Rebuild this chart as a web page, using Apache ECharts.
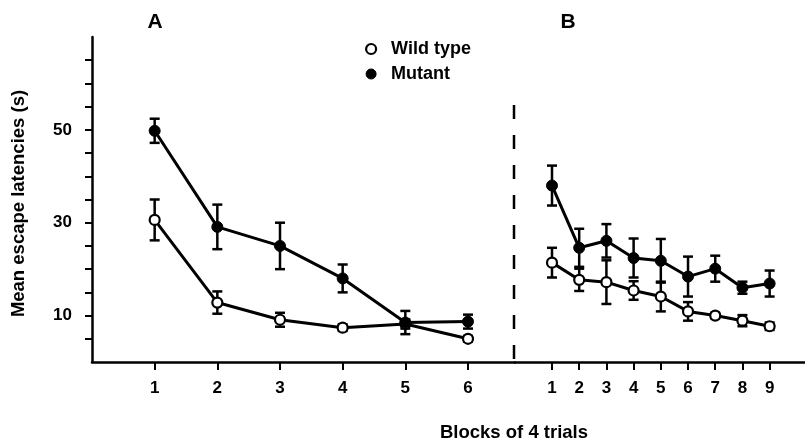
<!DOCTYPE html>
<html><head><meta charset="utf-8">
<script src="https://cdn.jsdelivr.net/npm/echarts@6/dist/echarts.min.js"></script>
<style>html,body{margin:0;padding:0;background:#fff}#c{width:805px;height:443px}</style>
</head><body><div id="c"></div>
<script>
const blocksA = [1, 2, 3, 4, 5, 6];
const blocksB = [1, 2, 3, 4, 5, 6, 7, 8, 9];
const wildA = [30.6, 12.8, 9.1, 7.4, 8.2, 5.0];
const wildAErr = [4.4, 2.4, 1.5, 0.7, 1.0, 0.6];
const mutantA = [49.8, 29.1, 25.0, 18.0, 8.5, 8.7];
const mutantAErr = [2.6, 4.8, 5.0, 3.0, 2.5, 1.5];
const wildB = [21.4, 17.7, 17.2, 15.4, 14.1, 10.9, 10.0, 8.9, 7.7];
const wildBErr = [3.2, 2.4, 4.7, 2.0, 3.2, 2.0, 0.6, 1.2, 0.8];
const mutantB = [38.0, 24.6, 26.1, 22.4, 21.8, 18.4, 20.1, 16.0, 16.9];
const mutantBErr = [4.3, 4.1, 3.6, 4.2, 4.7, 4.3, 2.8, 1.3, 2.8];
const yTickValues = [5, 10, 15, 20, 25, 30, 35, 40, 45, 50, 55, 60, 65];
const yLabelValues = [10, 30, 50];
const yTitle = 'Mean escape latencies (s)';
const xTitle = 'Blocks of 4 trials';
const panelTitles = ['A', 'B'];
const seriesNames = ['Wild type', 'Mutant'];

const FONT = '"Liberation Sans", Arial, sans-serif';
const chart = echarts.init(document.getElementById('c'));

function pts(xs, ys) { return xs.map((x, i) => [x, ys[i]]); }
function errs(xs, ys, es) { return xs.map((x, i) => [x, ys[i] - es[i], ys[i] + es[i]]); }

function errRender(params, api) {
  const x = api.value(0), lo = api.value(1), hi = api.value(2);
  const a = api.coord([x, lo]), b = api.coord([x, hi]);
  const hw = 5;
  const style = { stroke: '#000', lineWidth: 2.5 };
  return { type: 'group', children: [
    { type: 'line', shape: { x1: a[0], y1: a[1], x2: b[0], y2: b[1] }, style },
    { type: 'line', shape: { x1: a[0] - hw, y1: a[1], x2: a[0] + hw, y2: a[1] }, style },
    { type: 'line', shape: { x1: b[0] - hw, y1: b[1], x2: b[0] + hw, y2: b[1] }, style }
  ]};
}

const axisLineStyle = { color: '#000', width: 2.5 };
const xLabel = { color: '#000', fontFamily: FONT, fontWeight: 'bold', fontSize: 17, margin: 18 };

const wtItem = { color: '#fff', borderColor: '#000', borderWidth: 2.2 };
const mutItem = { color: '#000', borderColor: '#000', borderWidth: 1 };

function lineSeries(name, xi, data, item, size) {
  return { type: 'line', name, xAxisIndex: xi, yAxisIndex: xi, data, symbol: 'circle', symbolSize: size,
    itemStyle: item, lineStyle: { color: '#000', width: 3 }, z: 3, animation: false };
}
function errSeries(name, xi, data) {
  return { type: 'custom', name, xAxisIndex: xi, yAxisIndex: xi, data, renderItem: errRender,
    encode: { x: 0, y: [1, 2] }, z: 2, animation: false, silent: true };
}

chart.setOption({
  backgroundColor: '#fff',
  animation: false,
  grid: [
    { left: 92, top: 37, width: 423, height: 325 },
    { left: 515, top: 37, right: 0, height: 325 }
  ],
  xAxis: [
    { type: 'value', gridIndex: 0, min: 0, max: 6.75, splitLine: { show: false },
      axisLine: { lineStyle: axisLineStyle },
      axisTick: { customValues: blocksA, length: 8, lineStyle: { color: '#000', width: 2 } },
      axisLabel: Object.assign({ customValues: blocksA }, xLabel) },
    { type: 'value', gridIndex: 1, min: -0.36, max: 10.3, splitLine: { show: false },
      axisLine: { lineStyle: axisLineStyle },
      axisTick: { customValues: blocksB, length: 8, lineStyle: { color: '#000', width: 2 } },
      axisLabel: Object.assign({ customValues: blocksB }, xLabel) }
  ],
  yAxis: [
    { type: 'value', gridIndex: 0, min: 0, max: 70, splitLine: { show: false },
      name: yTitle, nameLocation: 'middle', nameGap: 64,
      nameTextStyle: { color: '#000', fontFamily: FONT, fontWeight: 'bold', fontSize: 18.5, padding: [0, 8, 0, 0] },
      axisLine: { show: true, lineStyle: axisLineStyle },
      axisTick: { show: true, customValues: yTickValues, length: 7, lineStyle: { color: '#000', width: 2 } },
      axisLabel: { customValues: yLabelValues, color: '#000', fontFamily: FONT, fontWeight: 'bold', fontSize: 17, margin: 20 } },
    { type: 'value', gridIndex: 1, min: 0, max: 70, show: false, splitLine: { show: false } }
  ],
  legend: {
    orient: 'vertical', left: 360, top: 35, itemWidth: 30, itemHeight: 10, itemGap: 7,
    textStyle: { color: '#000', fontFamily: FONT, fontWeight: 'bold', fontSize: 18 },
    data: [
      { name: seriesNames[0], icon: 'circle', itemStyle: wtItem },
      { name: seriesNames[1], icon: 'circle', itemStyle: mutItem }
    ]
  },
  graphic: [
    { type: 'text', x: 155, y: 22, style: { text: panelTitles[0], font: 'bold 21px ' + FONT, fill: '#000', textAlign: 'center', textVerticalAlign: 'middle' } },
    { type: 'text', x: 568, y: 22, style: { text: panelTitles[1], font: 'bold 21px ' + FONT, fill: '#000', textAlign: 'center', textVerticalAlign: 'middle' } },
    { type: 'text', x: 514, y: 433, style: { text: xTitle, font: 'bold 18.5px ' + FONT, fill: '#000', textAlign: 'center', textVerticalAlign: 'middle' } },
    { type: 'line', shape: { x1: 514, y1: 105, x2: 514, y2: 362 }, style: { stroke: '#000', lineWidth: 2.5, lineDash: [14, 16] }, z: 1 }
  ],
  series: [
    errSeries(seriesNames[0], 0, errs(blocksA, wildA, wildAErr)),
    errSeries(seriesNames[1], 0, errs(blocksA, mutantA, mutantAErr)),
    errSeries(seriesNames[0], 1, errs(blocksB, wildB, wildBErr)),
    errSeries(seriesNames[1], 1, errs(blocksB, mutantB, mutantBErr)),
    lineSeries(seriesNames[0], 0, pts(blocksA, wildA), wtItem, 10),
    lineSeries(seriesNames[1], 0, pts(blocksA, mutantA), mutItem, 11),
    lineSeries(seriesNames[0], 1, pts(blocksB, wildB), wtItem, 10),
    lineSeries(seriesNames[1], 1, pts(blocksB, mutantB), mutItem, 11)
  ]
});
</script></body></html>
